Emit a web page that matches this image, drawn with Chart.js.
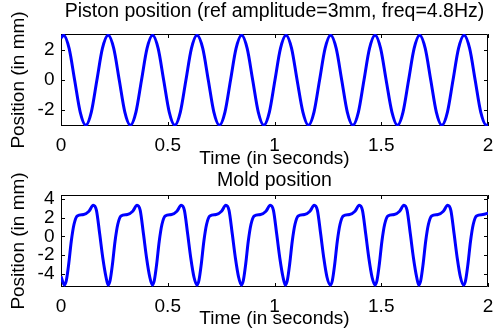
<!DOCTYPE html>
<html>
<head>
<meta charset="utf-8">
<script src="https://cdn.jsdelivr.net/npm/chart.js@4.4.0/dist/chart.umd.min.js"></script>
<style>
  html, body { margin: 0; padding: 0; background: #fff; }
  #wrap { position: relative; width: 493px; height: 335px; overflow: hidden; }
  canvas { position: absolute; left: 0; top: 0; }
</style>
</head>
<body>
<div id="wrap">
  <canvas id="pistonChart" width="493" height="335"></canvas>
  <canvas id="moldChart" width="493" height="335"></canvas>
</div>
<script>
const timeTicks = [0, 0.5, 1, 1.5, 2];
const pistonTicks = [-2, 0, 2];
const moldTicks = [-4, -2, 0, 2, 4];

// piston: peaks, troughs and crossings
const pistonTime = [
    0, 0.012, 0.038, 0.064, 0.090, 0.116, 0.142, 0.168, 0.194,
    0.221, 0.247, 0.273, 0.299, 0.325, 0.351, 0.377, 0.403,
    0.429, 0.455, 0.481, 0.507, 0.533, 0.559, 0.585, 0.611,
    0.637, 0.664, 0.690, 0.716, 0.742, 0.768, 0.794, 0.820,
    0.846, 0.872, 0.898, 0.924, 0.950, 0.976, 1.002, 1.028,
    1.054, 1.080, 1.106, 1.133, 1.159, 1.185, 1.211, 1.237,
    1.263, 1.289, 1.315, 1.341, 1.367, 1.393, 1.419, 1.445,
    1.471, 1.497, 1.523, 1.550, 1.576, 1.602, 1.628, 1.654,
    1.680, 1.706, 1.732, 1.758, 1.784, 1.810, 1.836, 1.862,
    1.888, 1.914, 1.940, 1.966, 1.993, 2.000
];
const pistonPos = [
    2.8, 3, 2.12, 0, -2.12, -3, -2.12, 0, 2.12,
    3, 2.12, 0, -2.12, -3, -2.12, 0, 2.12,
    3, 2.12, 0, -2.12, -3, -2.12, 0, 2.12,
    3, 2.12, 0, -2.12, -3, -2.12, 0, 2.12,
    3, 2.12, 0, -2.12, -3, -2.12, 0, 2.12,
    3, 2.12, 0, -2.12, -3, -2.12, 0, 2.12,
    3, 2.12, 0, -2.12, -3, -2.12, 0, 2.12,
    3, 2.12, 0, -2.12, -3, -2.12, 0, 2.12,
    3, 2.12, 0, -2.12, -3, -2.12, 0, 2.12,
    3, 2.12, 0, -2.12, -3, -2.97
];

// mold: trough, rise, plateau, peak, drop for each cycle
const moldTime = [
    0,
    0.016, 0.025, 0.036, 0.048, 0.061, 0.076, 0.106, 0.131, 0.151, 0.166, 0.181, 0.196, 0.211,
    0.221, 0.230, 0.241, 0.253, 0.266, 0.281, 0.311, 0.336, 0.356, 0.371, 0.386, 0.401, 0.416,
    0.428, 0.437, 0.448, 0.460, 0.473, 0.488, 0.518, 0.543, 0.563, 0.578, 0.593, 0.608, 0.623,
    0.637, 0.646, 0.657, 0.669, 0.682, 0.697, 0.727, 0.752, 0.772, 0.787, 0.802, 0.817, 0.832,
    0.845, 0.854, 0.865, 0.877, 0.890, 0.905, 0.935, 0.960, 0.980, 0.995, 1.010, 1.025, 1.040,
    1.051, 1.060, 1.071, 1.083, 1.096, 1.111, 1.141, 1.166, 1.186, 1.201, 1.216, 1.231, 1.246,
    1.262, 1.271, 1.282, 1.294, 1.307, 1.322, 1.352, 1.377, 1.397, 1.412, 1.427, 1.442, 1.457,
    1.471, 1.480, 1.491, 1.503, 1.516, 1.531, 1.561, 1.586, 1.606, 1.621, 1.636, 1.651, 1.666,
    1.676, 1.685, 1.696, 1.708, 1.721, 1.736, 1.766, 1.791, 1.811, 1.826, 1.841, 1.856, 1.871,
    1.886, 1.895, 1.906, 1.918, 1.931, 1.946, 1.976, 2.000
];
const moldPos = [
    -4.3,
    -5.25, -4.75, -3.0, -0.55, 1.3, 2.2, 2.35, 2.7, 3.35, 2.8, 0.3, -2.35, -4.4,
    -5.25, -4.75, -3.0, -0.55, 1.3, 2.2, 2.35, 2.7, 3.35, 2.8, 0.3, -2.35, -4.4,
    -5.25, -4.75, -3.0, -0.55, 1.3, 2.2, 2.35, 2.7, 3.35, 2.8, 0.3, -2.35, -4.4,
    -5.25, -4.75, -3.0, -0.55, 1.3, 2.2, 2.35, 2.7, 3.35, 2.8, 0.3, -2.35, -4.4,
    -5.25, -4.75, -3.0, -0.55, 1.3, 2.2, 2.35, 2.7, 3.35, 2.8, 0.3, -2.35, -4.4,
    -5.25, -4.75, -3.0, -0.55, 1.3, 2.2, 2.35, 2.7, 3.35, 2.8, 0.3, -2.35, -4.4,
    -5.25, -4.75, -3.0, -0.55, 1.3, 2.2, 2.35, 2.7, 3.35, 2.8, 0.3, -2.35, -4.4,
    -5.25, -4.75, -3.0, -0.55, 1.3, 2.2, 2.35, 2.7, 3.35, 2.8, 0.3, -2.35, -4.4,
    -5.25, -4.75, -3.0, -0.55, 1.3, 2.2, 2.35, 2.7, 3.35, 2.8, 0.3, -2.35, -4.4,
    -5.25, -4.75, -3.0, -0.55, 1.3, 2.2, 2.35, 2.5
];

Chart.defaults.font.family = "'Liberation Sans', Arial, sans-serif";
Chart.defaults.font.size = 19;
Chart.defaults.color = '#000';

// matlab style box with inward ticks
const framePlugin = {
    id: 'frame',
    beforeDatasetsDraw(chart) {
        const { ctx, chartArea: a, scales: { x, y } } = chart;
        ctx.save();
        ctx.strokeStyle = '#000';
        ctx.lineWidth = 1;
        ctx.beginPath();
        ctx.rect(a.left + 0.5, a.top + 0.5, a.width - 1, a.height - 1);
        x.ticks.forEach(t => {
            const px = Math.round(x.getPixelForValue(t.value)) + 0.5;
            ctx.moveTo(px, a.bottom); ctx.lineTo(px, a.bottom - 4);
            ctx.moveTo(px, a.top); ctx.lineTo(px, a.top + 4);
        });
        y.ticks.forEach(t => {
            const py = Math.round(y.getPixelForValue(t.value)) + 0.5;
            ctx.moveTo(a.left, py); ctx.lineTo(a.left + 4, py);
            ctx.moveTo(a.right, py); ctx.lineTo(a.right - 4, py);
        });
        ctx.stroke();
        ctx.restore();
    }
};

const plots = [
    {
        elementId: 'pistonChart',
        title: 'Piston position (ref amplitude=3mm, freq=4.8Hz)',
        time: pistonTime, pos: pistonPos, yTicks: pistonTicks,
        yMin: -3.05, yMax: 3.08,
        layout: { top: 0, bottom: 160, left: 0, right: 5 },
        topHeight: 34, titleTop: 0.3,
        xHeight: 49
    },
    {
        elementId: 'moldChart',
        title: 'Mold position',
        time: moldTime, pos: moldPos, yTicks: moldTicks,
        yMin: -5.45, yMax: 4.45,
        layout: { top: 165, bottom: 0, left: 0, right: 5 },
        topHeight: 30, titleTop: 4.3,
        xHeight: 48
    }
];

plots.forEach(p => {
    new Chart(document.getElementById(p.elementId), {
        type: 'line',
        data: {
            datasets: [{
                data: p.time.map((t, i) => ({ x: t, y: p.pos[i] })),
                borderColor: '#0000ff',
                borderWidth: 3,
                pointRadius: 0,
                fill: false,
                cubicInterpolationMode: 'monotone'
            }]
        },
        options: {
            responsive: false,
            animation: false,
            devicePixelRatio: 1,
            layout: { padding: p.layout },
            plugins: {
                legend: { display: false },
                tooltip: { enabled: false },
                title: { display: false }
            },
            scales: {
                x: {
                    type: 'linear', min: 0, max: 2,
                    afterBuildTicks: s => { s.ticks = timeTicks.map(v => ({ value: v })); },
                    afterFit: s => { s.height = p.xHeight; s.paddingLeft = 0; s.paddingRight = 0; },
                    grid: { display: false, drawTicks: false },
                    border: { display: false },
                    ticks: { padding: 8, maxRotation: 0, autoSkip: false, callback: v => String(v) },
                    title: { display: true, text: 'Time (in seconds)', padding: { top: 0, bottom: 4.6 } }
                },
                // top axis only carries the plot title, centred over the plot box
                top: {
                    type: 'linear', position: 'top', min: 0, max: 2,
                    afterBuildTicks: s => { s.ticks = timeTicks.map(v => ({ value: v })); },
                    afterFit: s => { s.height = p.topHeight; s.paddingLeft = 0; s.paddingRight = 0; },
                    grid: { display: false, drawTicks: false },
                    border: { display: false },
                    ticks: { display: false },
                    title: { display: true, text: p.title, font: { size: 19.5 }, padding: { top: p.titleTop, bottom: 0 } }
                },
                y: {
                    min: p.yMin, max: p.yMax,
                    afterBuildTicks: s => { s.ticks = p.yTicks.map(v => ({ value: v })); },
                    afterFit: s => { s.width = 61; s.paddingTop = 0; s.paddingBottom = 0; },
                    grid: { display: false, drawTicks: false },
                    border: { display: false },
                    ticks: { padding: 6.5, autoSkip: false, callback: v => String(v) },
                    title: { display: true, text: 'Position (in mm)', padding: { top: 7, bottom: 0 } }
                }
            }
        },
        plugins: [framePlugin]
    });
});
</script>
</body>
</html>
